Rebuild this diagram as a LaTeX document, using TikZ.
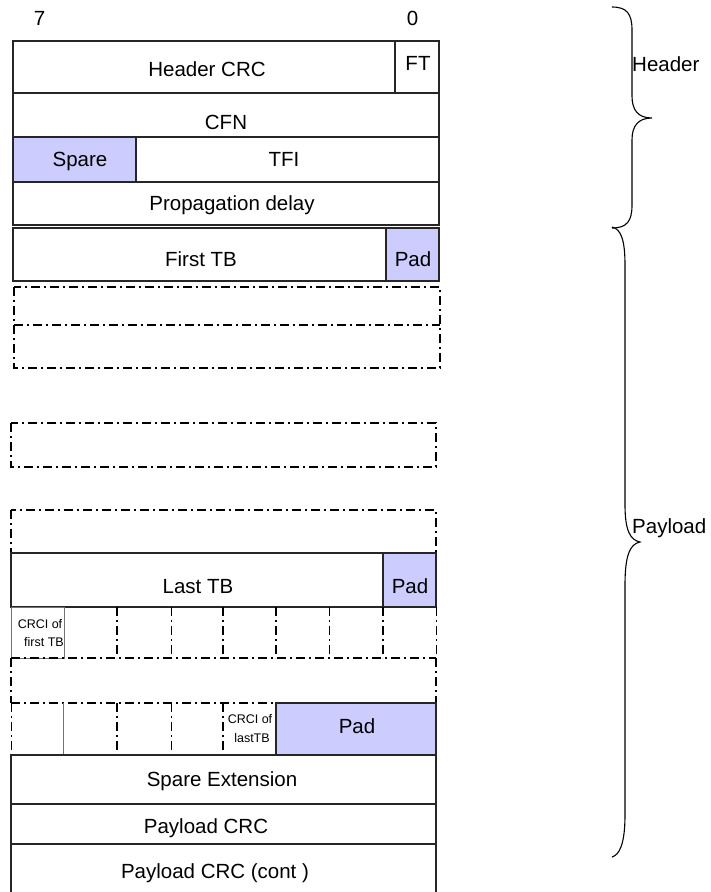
\documentclass[tikz,border=0pt]{standalone}
\usepackage{fontspec}
\setmainfont{Liberation Sans}
\definecolor{padblue}{RGB}{204,204,255}

\begin{document}
\begin{tikzpicture}[x=1pt,y=-1pt,
  box/.style={draw=black!85,line width=1.2pt},
  padbox/.style={box,fill=padblue},
  thinbox/.style={draw=black!55,line width=0.9pt},
  dd/.style={line width=2pt,dash pattern=on 9pt off 4pt on 2pt off 4pt},
  ddthin/.style={line width=0.9pt,dash pattern=on 9pt off 4pt on 2pt off 4pt},
  lbl/.style={font=\fontsize{20.5}{24}\selectfont,inner sep=0pt,anchor=base},
  smalllbl/.style={font=\fontsize{12.5}{18.5}\selectfont,inner sep=0pt,anchor=base}]
\useasboundingbox (0,0) rectangle (710,892);

% bit numbers
\node[lbl] (bit7) at (39.5,25) {7};
\node[lbl] (bit0) at (412.5,25) {0};

% header part
\draw[box] (13,41) rectangle (395,93);
\draw[box] (395,41) rectangle (439,93);
\node[lbl] (hcrc) at (207,76) {Header CRC};
\node[lbl] (ft) at (418,70.5) {FT};
\draw[box] (13,93) rectangle (439,137);
\node[lbl] (cfn) at (226,129) {CFN};
\draw[padbox] (13,137) rectangle (136,182);
\draw[box] (136,137) rectangle (439,182);
\node[lbl] (spare) at (80,166) {Spare};
\node[lbl] (tfi) at (284,166) {TFI};
\draw[box] (13,182) rectangle (439,225);
\node[lbl] (prop) at (232,210) {Propagation delay};

% payload part
\draw[box] (13,228) rectangle (386,281);
\draw[padbox] (386,228) rectangle (439,281);
\node[lbl] (firsttb) at (201,266) {First TB};
\node[lbl] (pad1) at (413,266) {Pad};
\draw[dd] (14,287) rectangle (440,368);
\draw[dd] (14,325) -- (440,325);
\draw[dd] (11,423) rectangle (436,467);
\draw[dd] (11,510) rectangle (436,553);

\draw[box] (11,553) rectangle (383,607);
\draw[padbox] (383,553) rectangle (436,607);
\node[lbl] (lasttb) at (198,593) {Last TB};
\node[lbl] (pad2) at (410,593) {Pad};

% CRCI rows
\draw[thinbox] (11,607) rectangle (64,658);
\foreach \x in {117,223,276,383} \draw[dd] (\x,607) -- (\x,658);
\foreach \x in {171,329,436} \draw[ddthin] (\x,607) -- (\x,658);
\draw[dd] (11,658) -- (436,658);
\node[smalllbl] (crcifirst1) at (40,628) {CRCI of};
\node[smalllbl] (crcifirst2) at (44,646) {first TB};

\draw[dd] (11,658) -- (11,703);
\draw[dd] (436,658) -- (436,703);
\draw[dd] (11,703) -- (276,703);
\draw[ddthin] (11,703) -- (11,755);
\draw[thinbox] (63,703) -- (63,755);
\foreach \x in {117,223} \draw[dd] (\x,703) -- (\x,755);
\foreach \x in {171,276} \draw[ddthin] (\x,703) -- (\x,755);
\draw[padbox] (276,703) rectangle (436,755);
\node[smalllbl] (crcilast1) at (250,723) {CRCI of};
\node[smalllbl] (crcilast2) at (252,742) {lastTB};
\node[lbl] (pad3) at (357,733) {Pad};

\draw[box] (11,755) rectangle (436,804);
\node[lbl] (spareext) at (222,786) {Spare Extension};
\draw[box] (11,804) rectangle (436,844);
\node[lbl] (pcrc) at (206,833) {Payload CRC};
\draw[box] (11,844) rectangle (436,900);
\node[lbl] (pcrccont) at (215,878) {Payload CRC (cont )};

% braces
\draw[line width=1.1pt] (612,7) .. controls (627,7) and (632,14) .. (632,30)
  -- (632,96) .. controls (632,110) and (638,118) .. (652,118)
  .. controls (638,118) and (632,126) .. (632,140)
  -- (632,205) .. controls (632,221) and (627,228) .. (612,228);
\node[lbl,anchor=base west] (hdr) at (632,71) {Header};
\draw[line width=1.1pt] (612,227) .. controls (621,229) and (625,240) .. (625,265)
  -- (625,505) .. controls (625,530) and (630,540) .. (640,542)
  .. controls (630,544) and (625,555) .. (625,585)
  -- (625,815) .. controls (625,845) and (619,855) .. (612,857);
\node[lbl,anchor=base west] (pld) at (632,533) {Payload};
\end{tikzpicture}
\end{document}
